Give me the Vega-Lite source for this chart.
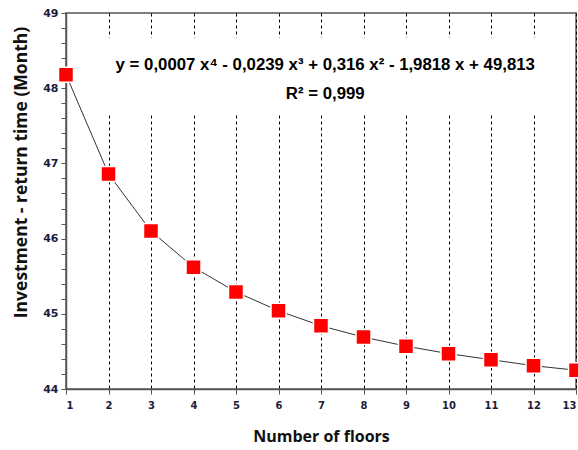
{
  "$schema": "https://vega.github.io/schema/vega-lite/v6.json",
  "autosize": "none",
  "width": 510,
  "height": 376,
  "padding": {"left": 66, "top": 13, "right": 2, "bottom": 61},
  "background": "white",
  "config": {
    "view": {"stroke": "#555", "strokeWidth": 1.5},
    "axis": {
      "labelFont": "DejaVu Sans",
      "labelFontWeight": "bold",
      "labelColor": "#1c1c3c",
      "titleFont": "Open Sans",
      "titleFontWeight": "bold",
      "titleColor": "#111",
      "domainColor": "#555",
      "domainWidth": 1.5,
      "tickColor": "#555"
    }
  },
  "datasets": {
    "pts": [
      {"floors": 1, "months": 48.18},
      {"floors": 2, "months": 46.86},
      {"floors": 3, "months": 46.10},
      {"floors": 4, "months": 45.62},
      {"floors": 5, "months": 45.29},
      {"floors": 6, "months": 45.04},
      {"floors": 7, "months": 44.84},
      {"floors": 8, "months": 44.69},
      {"floors": 9, "months": 44.57},
      {"floors": 10, "months": 44.47},
      {"floors": 11, "months": 44.39},
      {"floors": 12, "months": 44.31},
      {"floors": 13, "months": 44.25}
    ]
  },
  "layer": [
    {
      "data": {"values": [{"x1": 1.55, "x2": 12.8, "y1": 47.67, "y2": 48.67}]},
      "mark": {"type": "rect", "fill": "white"},
      "encoding": {
        "x": {"field": "x1", "type": "quantitative", "scale": {"domain": [1, 13], "nice": false, "zero": false},
          "axis": {"title": "Number of floors", "titleFontSize": 16, "titlePadding": 18, "values": [1,2,3,4,5,6,7,8,9,10,11,12,13], "tickCount": 20, "format": "d", "labelFontSize": 10, "labelPadding": 6, "labelOverlap": false, "tickSize": 5, "grid": true, "gridColor": "#000", "gridDash": [3, 3], "gridWidth": 1, "gridOpacity": 1}},
        "x2": {"field": "x2"},
        "y": {"field": "y1", "type": "quantitative", "scale": {"domain": [44, 49], "nice": false, "zero": false},
          "axis": {"title": "Investment - return time (Month)", "titleFontSize": 17.5, "titlePadding": 12, "titleY": 159, "grid": false, "labelOverlap": false, "labelBound": false, "tickCount": 40, "values": [44,44.2,44.4,44.6,44.8,45,45.2,45.4,45.6,45.8,46,46.2,46.4,46.6,46.8,47,47.2,47.4,47.6,47.8,48,48.2,48.4,48.6,48.8,49], "labelExpr": "abs(datum.value - round(datum.value)) < 0.01 ? format(datum.value, 'd') : ''", "labelFontSize": 11, "tickSize": 5, "labelPadding": 3}},
        "y2": {"field": "y2"}
      }
    },
    {
      "data": {"name": "pts"},
      "mark": {"type": "line", "color": "#333", "strokeWidth": 1},
      "encoding": {
        "x": {"field": "floors", "type": "quantitative"},
        "y": {"field": "months", "type": "quantitative"}
      }
    },
    {
      "data": {"name": "pts"},
      "mark": {"type": "point", "shape": "square", "filled": true, "fill": "#ff0000", "size": 225, "stroke": "white", "strokeWidth": 1.5, "opacity": 1},
      "encoding": {
        "x": {"field": "floors", "type": "quantitative"},
        "y": {"field": "months", "type": "quantitative"}
      }
    },
    {
      "data": {"values": [
        {"tx": 7.1, "ty": 48.31, "label": "y = 0,0007 x⁴ - 0,0239 x³ + 0,316 x² - 1,9818 x + 49,813"},
        {"tx": 7.1, "ty": 47.92, "label": "R² = 0,999"}
      ]},
      "mark": {"type": "text", "font": "Liberation Sans", "fontWeight": "bold", "fontSize": 16.8, "color": "#000", "align": "center", "baseline": "middle"},
      "encoding": {
        "x": {"field": "tx", "type": "quantitative"},
        "y": {"field": "ty", "type": "quantitative"},
        "text": {"field": "label"}
      }
    }
  ]
}
